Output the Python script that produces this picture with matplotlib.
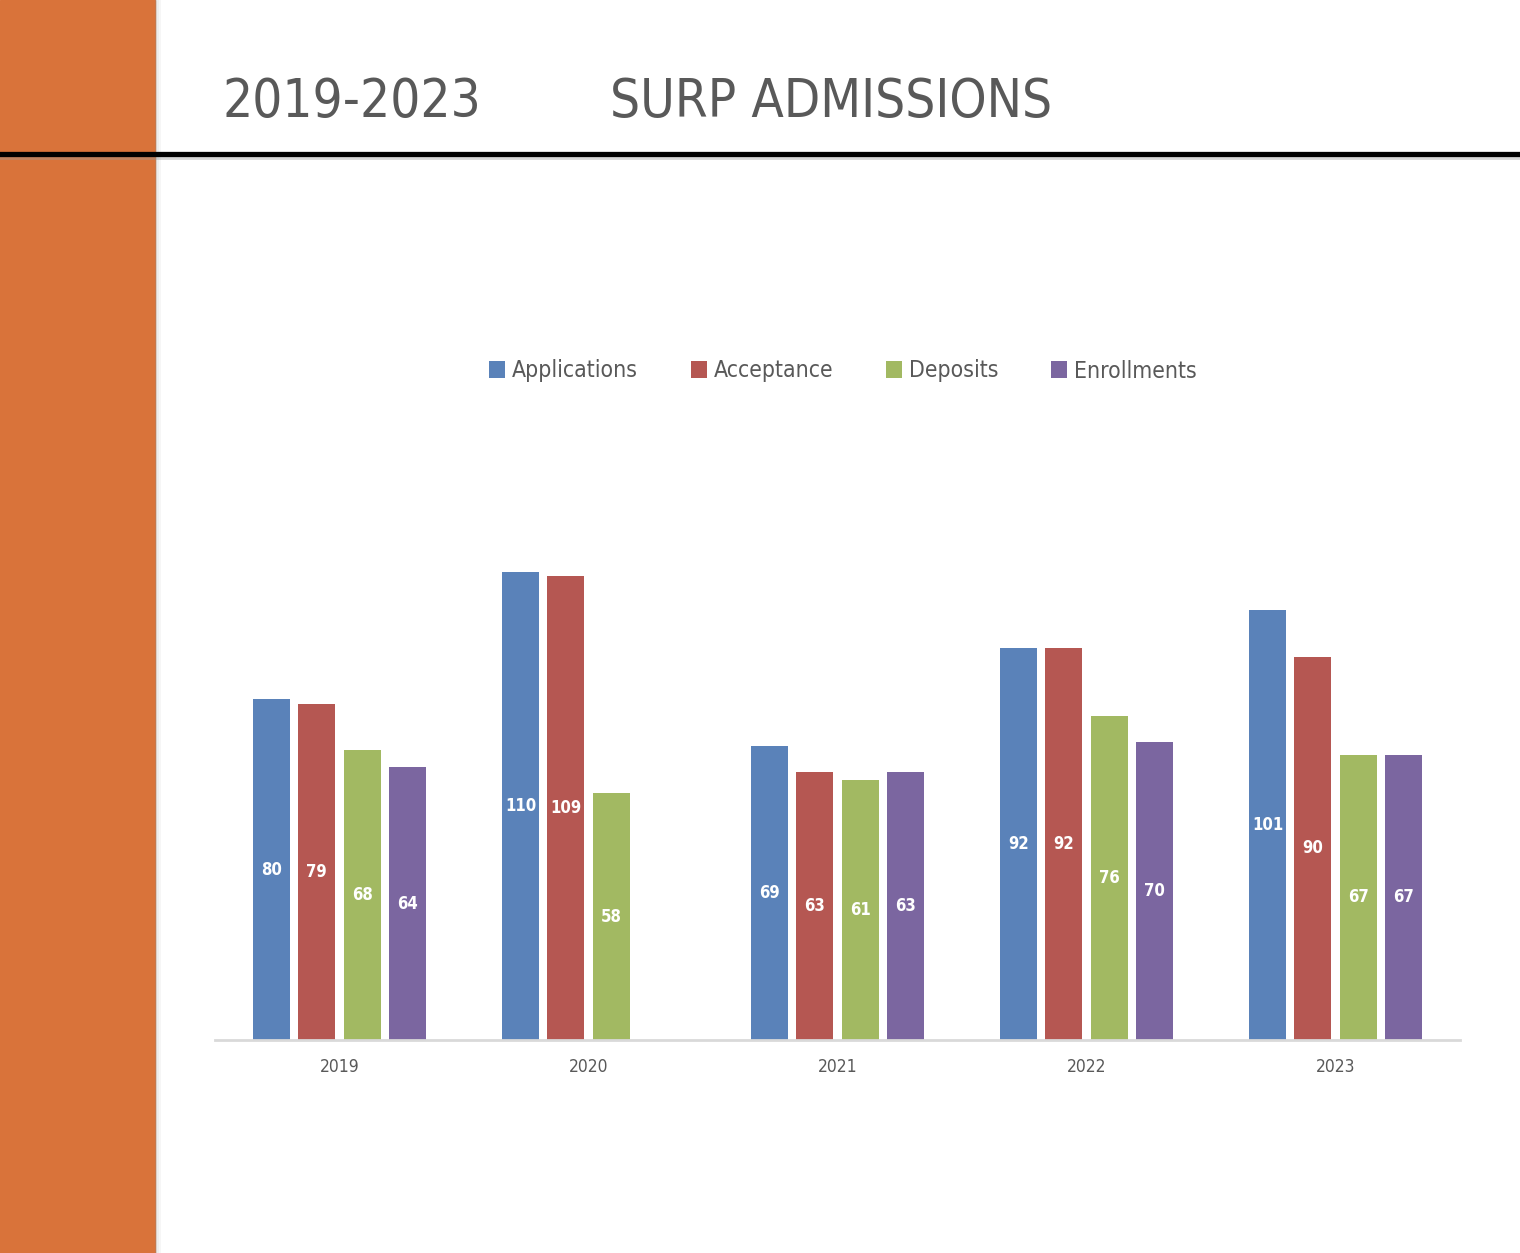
import numpy as np
import matplotlib
matplotlib.use("Agg")
import matplotlib.pyplot as plt
from matplotlib.patches import Rectangle
from matplotlib.lines import Line2D

years = ["2019", "2020", "2021", "2022", "2023"]
series = ["Applications", "Acceptance", "Deposits", "Enrollments"]
applications = [80, 110, 69, 92, 101]
acceptance = [79, 109, 63, 92, 90]
deposits = [68, 58, 61, 76, 67]
enrollments = [64, np.nan, 63, 70, 67]   # no 2020 bar in the source
colors = ["#5A82B9", "#B55752", "#A2B962", "#7B66A0"]

GREY = "#595959"
W, H = 1520, 1253
plt.rcParams["font.family"] = ["DejaVu Sans"]
plt.rcParams["font.stretch"] = "condensed"

fig = plt.figure(figsize=(W / 100, H / 100), dpi=100)
fig.patch.set_facecolor("white")

# orange side band with a soft shadow
fig.patches.append(Rectangle((0, 0), 155 / W, 1, transform=fig.transFigure,
                             color="#D9733A", zorder=0))
for i, a in enumerate([0.25, 0.15, 0.07]):
    fig.patches.append(Rectangle(((155 + i * 2) / W, 0), 2 / W, 1,
                                 transform=fig.transFigure,
                                 color="#888888", alpha=a, lw=0, zorder=0))

# header rule
yl = 1 - 154 / H
fig.add_artist(Line2D([0, 1], [yl - 4 / H, yl - 4 / H], color="#999999",
                      lw=2, alpha=0.4))
fig.add_artist(Line2D([0, 1], [yl, yl], color="black", lw=3.8))

fig.text(222 / W, 1 - 102 / H, "2019-2023", fontsize=38,
         color=GREY, va="center", ha="left")
fig.text(610 / W, 1 - 102 / H, "SURP ADMISSIONS", fontsize=38,
         color=GREY, va="center", ha="left")

ax = fig.add_axes([215 / W, (H - 1040) / H, 1245 / W, 511 / H])
x = np.arange(len(years))
step, width = 0.182, 0.149
handles = []
for j, (name, vals) in enumerate(zip(series, [applications, acceptance,
                                              deposits, enrollments])):
    vals = np.array(vals, float)
    pos = x + (j - 1.5) * step
    bars = ax.bar(pos, np.nan_to_num(vals), width, color=colors[j],
                  label=name, zorder=2)
    handles.append(bars)
    for p, v in zip(pos, vals):
        if np.isfinite(v):
            ax.text(p, v / 2, f"{v:.0f}", ha="center", va="center",
                    color="white", fontsize=12, fontweight="bold")

ax.set_xlim(-0.5, len(years) - 0.5)
ax.set_ylim(0, 120)
ax.set_xticks(x)
ax.set_xticklabels(years, fontsize=12.5, color=GREY)
ax.tick_params(axis="x", length=0, pad=13)
ax.set_yticks([])
for s in ["top", "right", "left"]:
    ax.spines[s].set_visible(False)
ax.spines["bottom"].set_color("#D9D9D9")
ax.spines["bottom"].set_linewidth(2)
ax.set_facecolor("none")

fig.legend(handles=handles, labels=series, loc="center",
           bbox_to_anchor=(843 / W, 1 - 371 / H), ncol=4, frameon=False,
           handlelength=0.7, handleheight=0.7, handletextpad=0.3,
           columnspacing=2.3, prop={"size": 16.5}, labelcolor=GREY)

fig.savefig("out.png", dpi=100)
